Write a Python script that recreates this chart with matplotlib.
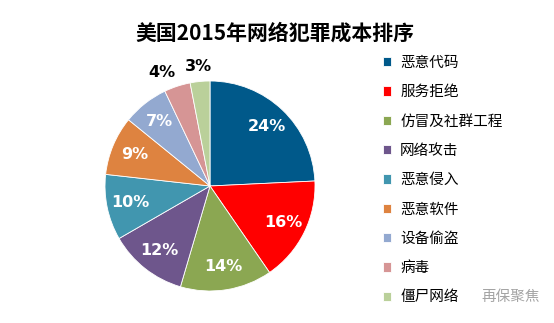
import numpy as np
import matplotlib
matplotlib.use('Agg')
import matplotlib.pyplot as plt

plt.rcParams['font.family'] = ['Noto Sans CJK SC', 'DejaVu Sans']

# Data
categories = ['恶意代码', '服务拒绝', '仿冒及社群工程', '网络攻击', '恶意侵入',
              '恶意软件', '设备偷盗', '病毒', '僵尸网络']
values = [24, 16, 14, 12, 10, 9, 7, 4, 3]
colors = ['#00598A', '#FF0000', '#8BA752', '#6E568C', '#4196AF',
          '#DE8340', '#93A9D0', '#D69595', '#BAD09A']
outside = [False, False, False, False, False, False, False, True, True]
# small horizontal nudge for outer labels so they don't touch
nudge = [0, 0, 0, 0, 0, 0, 0, -0.1, 0]

fig = plt.figure(figsize=(5.54, 3.23), dpi=100)
fig.patch.set_facecolor('white')

# pie centre ~ (210, 186) px, radius ~105 px
ax = fig.add_axes([(210 - 105) / 554, (323 - 186 - 105) / 323, 210 / 554, 210 / 323])
wedges, texts = ax.pie(values, colors=colors, startangle=90, counterclock=False,
                       wedgeprops=dict(edgecolor='white', linewidth=0.6))
ax.set_xlim(-1, 1)
ax.set_ylim(-1, 1)
ax.set_aspect('equal')

# percentage labels
for w, v, out, dx in zip(wedges, values, outside, nudge):
    ang = np.deg2rad((w.theta1 + w.theta2) / 2)
    if out:
        r = 1.14
        col = 'black'
    else:
        r = 0.78
        col = 'white'
    ax.text(r * np.cos(ang) + dx, r * np.sin(ang), '%d%%' % v, ha='center', va='center',
            color=col, fontsize=11.5, fontweight='bold', family=['DejaVu Sans'])

fig.text(0.497, 0.897, '美国2015年网络犯罪成本排序', ha='center', va='center',
         fontsize=15, fontweight='bold')

leg = fig.legend(wedges, categories, loc='upper left', bbox_to_anchor=(0.68, 0.845),
                 frameon=False, fontsize=10.5, handlelength=0.6, handleheight=0.6,
                 handletextpad=0.6, labelspacing=1.05, borderaxespad=0)

# watermark
fig.text(0.922, 0.08, '再保聚焦', ha='center', va='center', fontsize=10.5,
         color='#9a9a9a', alpha=0.9)

fig.savefig('out.png', dpi=100)
